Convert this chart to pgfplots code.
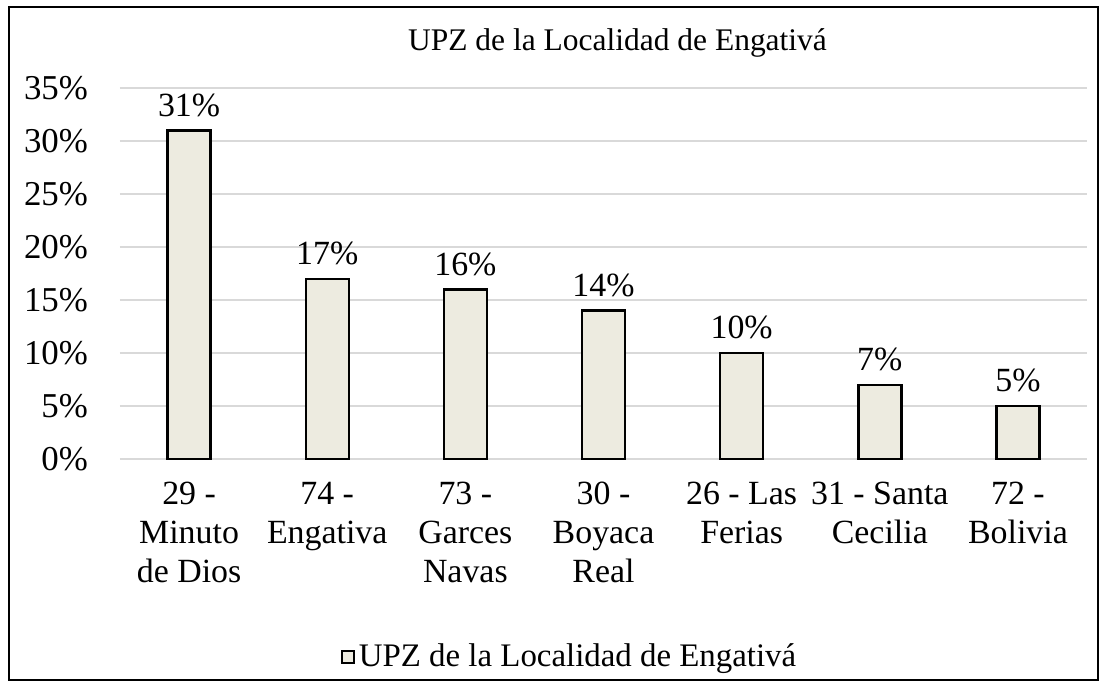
\documentclass[border=0pt]{standalone}
\usepackage{fontspec}
\setmainfont{Liberation Serif}
\usepackage{pgfplots}
\pgfplotsset{compat=1.18}
\definecolor{barfill}{HTML}{EDEBE0}
\definecolor{gridc}{HTML}{D9D9D9}
\newcommand{\lblfont}{\fontsize{17}{19.5}\selectfont}
\pgfplotsset{boxlegend/.style={legend image code/.code={\draw[##1, line width=0.9bp] (0bp,-3bp) rectangle (6bp,3bp);}}}
\begin{document}
\begin{tikzpicture}[x=1bp,y=1bp]
\useasboundingbox (-60,-114) rectangle (493.5,229.5);
\draw[line width=1bp] (-55.5,-110.5) rectangle (489,226);
\begin{axis}[
  at={(0,0)}, anchor=south west,
  scale only axis, width=483.5bp, height=185.5bp,
  ymin=0, ymax=35, ytick={0,5,...,35},
  xmin=-0.5, xmax=6.5, xtick=data,
  xticklabels={{29 -\\Minuto\\de Dios},{74 -\\Engativa},{73 -\\Garces\\Navas},{30 -\\Boyaca\\Real},{26 - Las\\Ferias},{31 - Santa\\Cecilia},{72 -\\Bolivia}},
  xticklabel style={align=center, font=\lblfont\setlength{\baselineskip}{19.5bp}, yshift=-8bp},
  yticklabel={\pgfmathprintnumber{\tick}\%},
  yticklabel style={font=\fontsize{17.5}{20}\selectfont, xshift=-12.5bp},
  /pgf/number format/assume math mode=true,
  major tick length=0pt,
  axis line style={draw=none},
  ymajorgrids, grid style={gridc, line width=1bp},
  ybar, bar width=21.5bp,
  nodes near coords={\pgfmathprintnumber{\pgfplotspointmeta}\%},
  every node near coord/.append style={font=\lblfont, yshift=3bp},
  legend style={at={(0.466,-0.5337)}, anchor=center, draw=none, font=\fontsize{16.5}{19}\selectfont, fill=none},
  legend cell align=left,
]
\addplot[fill=barfill, draw=black, line width=1.2bp, boxlegend]
  coordinates {(0,31) (1,17) (2,16) (3,14) (4,10) (5,7) (6,5)};
\addlegendentry{UPZ de la Localidad de Engativá}
\end{axis}
\node[font=\fontsize{15.8}{18}\selectfont, anchor=base] at (248.75,204.5) {UPZ de la Localidad de Engativá};
\end{tikzpicture}
\end{document}
